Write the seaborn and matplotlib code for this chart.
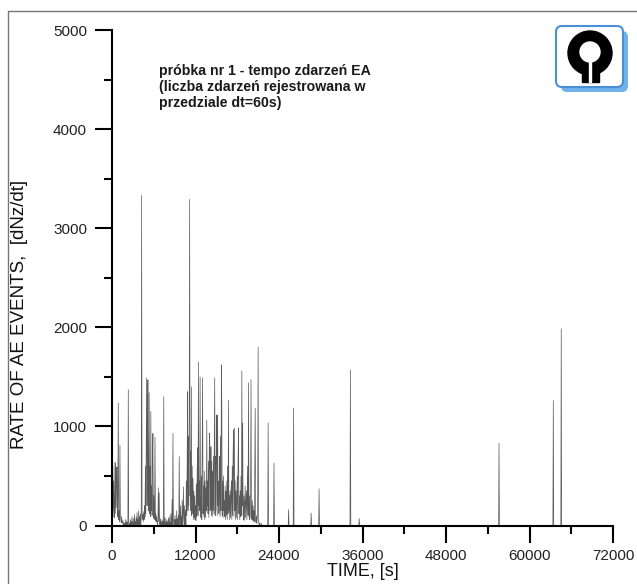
import numpy as np
import pandas as pd
import seaborn as sns
import matplotlib.pyplot as plt
from matplotlib.lines import Line2D
from matplotlib.patches import Circle, Rectangle, FancyBboxPatch
from matplotlib.ticker import MultipleLocator

# AE event rate, counted in 60 s bins
bin_s = 60
end_s = 72000

# consecutive bins from t=0 (one row = 10 bins = 600 s)
rate_dense = [
    3100, 150, 600, 90, 450, 200, 80, 640, 120, 630,
    180, 560, 590, 90, 300, 1235, 60, 150, 40, 810,
    140, 60, 30, 90, 40, 20, 50, 10, 0, 30,
    0, 20, 0, 60, 0, 40, 0, 30, 0, 1370,
    30, 0, 20, 0, 60, 0, 40, 0, 90, 0,
    30, 0, 70, 0, 110, 0, 40, 0, 80, 0,
    130, 0, 60, 0, 150, 0, 90, 0, 120, 0,
    80, 3330, 120, 60, 110, 40, 140, 60, 200, 90,
    600, 120, 900, 1490, 200, 700, 1470, 150, 500, 1340,
    120, 600, 90, 1150, 150, 400, 100, 700, 930, 80,
    300, 60, 150, 890, 50, 120, 40, 90, 30, 0,
    60, 380, 40, 330, 20, 0, 70, 0, 40, 0,
    60, 0, 40, 0, 1300, 30, 0, 80, 0, 30,
    0, 60, 0, 40, 0, 70, 0, 90, 0, 30,
    0, 120, 0, 60, 260, 0, 930, 80, 0, 60,
    0, 100, 0, 60, 0, 150, 0, 70, 0, 100,
    0, 695, 80, 0, 200, 0, 90, 0, 250, 0,
    120, 390, 60, 0, 200, 0, 150, 0, 450, 100,
    650, 1350, 150, 900, 200, 1200, 3290, 300, 750, 150,
    1400, 100, 600, 120, 480, 60, 350, 80, 300, 60,
    200, 50, 420, 90, 550, 785, 100, 1650, 200, 450,
    150, 1500, 250, 80, 500, 60, 800, 1490, 120, 400,
    90, 550, 60, 450, 80, 380, 150, 1065, 200, 450,
    120, 650, 80, 800, 930, 150, 420, 795, 100, 650,
    90, 550, 150, 700, 120, 900, 1490, 100, 700, 150,
    800, 1115, 100, 1115, 200, 450, 120, 300, 700, 90,
    900, 150, 1620, 1215, 100, 450, 80, 500, 150, 250,
    90, 400, 60, 350, 100, 450, 60, 600, 120, 1265,
    150, 300, 60, 350, 80, 300, 450, 60, 600, 100,
    700, 965, 90, 985, 150, 450, 60, 350, 80, 300,
    500, 60, 700, 985, 120, 300, 60, 350, 90, 500,
    100, 1560, 200, 1035, 120, 60, 300, 50, 250, 400,
    80, 200, 350, 60, 300, 600, 100, 1440, 150, 60,
    300, 80, 400, 1470, 100, 60, 250, 50, 200, 40,
    150, 40, 600, 1185, 60, 30, 100, 20, 80, 300,
    1800, 40, 20, 0, 30, 0, 0, 0, 20, 0,
]

# isolated spikes later in the test
sparse_t = [22440, 23280, 25380, 26100, 28620, 29760, 34260, 35520, 55620, 63420, 64560]
sparse_rate = [1035, 630, 160, 1185, 125, 370, 1570, 70, 830, 1260, 1985]

x_ticks = [0, 12000, 24000, 36000, 48000, 60000, 72000]
y_ticks = [0, 1000, 2000, 3000, 4000, 5000]

note = "próbka nr 1 - tempo zdarzeń EA\n(liczba zdarzeń rejestrowana w\nprzedziale dt=60s)"

# build full bin table
time = np.arange(0, end_s + bin_s, bin_s)
rate = np.zeros(len(time))
rate[:len(rate_dense)] = rate_dense
for t, r in zip(sparse_t, sparse_rate):
    rate[t // bin_s] = r
df = pd.DataFrame({"time": time, "rate": rate})

sns.set_style("ticks")
plt.rcParams["font.family"] = ["Liberation Sans", "DejaVu Sans"]

W, H = 637, 584
fig = plt.figure(figsize=(W / 100, H / 100), dpi=100)
fig.patch.set_facecolor("white")

ax = fig.add_axes([112 / W, 58.5 / H, 501 / W, 495.5 / H])
sns.lineplot(data=df, x="time", y="rate", ax=ax, color="#5a5a5a",
             linewidth=0.5, estimator=None)

ax.set_xlim(0, 72000)
ax.set_ylim(0, 5000)
ax.set_xticks(x_ticks)
ax.set_yticks(y_ticks)
ax.xaxis.set_minor_locator(MultipleLocator(6000))
ax.yaxis.set_minor_locator(MultipleLocator(500))
ax.tick_params(which="major", direction="out", length=12, width=1.5,
               labelsize=11, labelcolor="#222222", color="black")
ax.tick_params(which="minor", direction="out", length=6, width=1.5, color="black")
ax.tick_params(axis="x", which="major", pad=5)
ax.tick_params(axis="y", which="major", pad=6)
for side in ["top", "right"]:
    ax.spines[side].set_visible(False)
for side in ["left", "bottom"]:
    ax.spines[side].set_linewidth(1.5)
    ax.spines[side].set_color("black")

ax.set_xlabel("TIME, [s]", fontsize=13, color="#111111", labelpad=0)
ax.set_ylabel("RATE OF AE EVENTS,  [dNz/dt]", fontsize=13.5, color="#111111")
ax.yaxis.set_label_coords(-0.167, 0.425)

fig.text(159 / W, 1 - 64 / H, note, fontsize=10.2, fontweight="bold",
         color="#1a1a1a", va="top", ha="left", linespacing=1.2)

# logo in the top right corner
lg = fig.add_axes([548 / W, 1 - 96 / H, 84 / W, 76 / H])
lg.set_xlim(548, 632)
lg.set_ylim(96, 20)
lg.axis("off")
lg.add_patch(FancyBboxPatch((561, 31), 67, 61, boxstyle="round,pad=0,rounding_size=6",
                            facecolor="#6fb3ea", edgecolor="none"))
lg.add_patch(FancyBboxPatch((556, 26), 67, 61, boxstyle="round,pad=0,rounding_size=6",
                            facecolor="white", edgecolor="#4a8fd6", linewidth=1.5))
lg.add_patch(Circle((590, 53), 22, color="black"))
lg.add_patch(Rectangle((581.5, 64), 17, 18, color="black"))
lg.add_patch(Circle((590, 52), 10, color="white"))
lg.add_patch(Rectangle((589.2, 55), 1.6, 27, color="white"))

# scan frame
fig.add_artist(Line2D([8 / W, 8 / W], [0, 1 - 11 / H], transform=fig.transFigure,
                      color="#777777", linewidth=1))
fig.add_artist(Line2D([8 / W, 1], [1 - 11 / H, 1 - 11 / H], transform=fig.transFigure,
                      color="#777777", linewidth=1))

fig.savefig("out.png", dpi=100)
